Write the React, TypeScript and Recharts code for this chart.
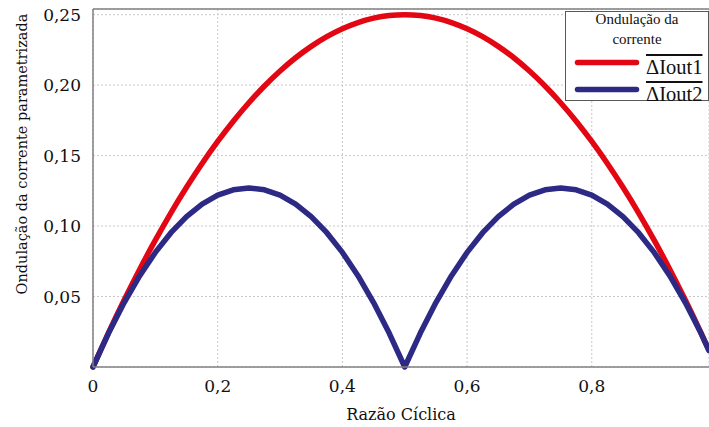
import {
  CartesianGrid,
  Legend,
  Line,
  LineChart,
  ReferenceLine,
  XAxis,
  YAxis,
} from "recharts";

const SERIF = '"Liberation Serif", "Times New Roman", serif';
const SVG_SERIF = "DejaVu Serif";

// razão cíclica (D)
const razao = [
  0, 0.025, 0.05, 0.075, 0.1, 0.125, 0.15, 0.175, 0.2, 0.225, 0.25, 0.275, 0.3,
  0.325, 0.35, 0.375, 0.4, 0.425, 0.45, 0.475, 0.5, 0.525, 0.55, 0.575, 0.6,
  0.625, 0.65, 0.675, 0.7, 0.725, 0.75, 0.775, 0.8, 0.825, 0.85, 0.875, 0.9,
  0.925, 0.95, 0.975, 0.988,
];
// ΔIout1 (red)
const ripple1 = [
  0, 0.0244, 0.0475, 0.0694, 0.09, 0.1094, 0.1275, 0.1444, 0.16, 0.1744,
  0.1875, 0.1994, 0.21, 0.2194, 0.2275, 0.2344, 0.24, 0.2444, 0.2475, 0.2494,
  0.25, 0.2494, 0.2475, 0.2444, 0.24, 0.2344, 0.2275, 0.2194, 0.21, 0.1994,
  0.1875, 0.1744, 0.16, 0.1444, 0.1275, 0.1094, 0.09, 0.0694, 0.0475, 0.0244,
  0.0119,
];
// ΔIout2 (blue)
const ripple2 = [
  0, 0.0241, 0.0457, 0.0648, 0.0813, 0.0953, 0.1067, 0.1156, 0.1219, 0.1257,
  0.127, 0.1257, 0.1219, 0.1156, 0.1067, 0.0953, 0.0813, 0.0648, 0.0457,
  0.0241, 0, 0.0241, 0.0457, 0.0648, 0.0813, 0.0953, 0.1067, 0.1156, 0.1219,
  0.1257, 0.127, 0.1257, 0.1219, 0.1156, 0.1067, 0.0953, 0.0813, 0.0648,
  0.0457, 0.0241, 0.0117,
];

const xTicks = [0, 0.2, 0.4, 0.6, 0.8];
const yTicks = [0.05, 0.1, 0.15, 0.2, 0.25];

const data = razao.map((d, i) => ({ d, i1: ripple1[i], i2: ripple2[i] }));

const fmtX = (v: number) => (v === 0 ? "0" : v.toFixed(1).replace(".", ","));
const fmtY = (v: number) => v.toFixed(2).replace(".", ",");

const YLabel = (props: any) => {
  const { viewBox } = props;
  const x = viewBox.x + 27;
  const y = viewBox.y + viewBox.height / 2 - 34;
  return (
    <text
      x={x}
      y={y}
      transform={`rotate(-90 ${x} ${y})`}
      textAnchor="middle"
      fontFamily={SVG_SERIF}
      fontSize={14.5}
      fill="#111"
    >
      Ondulação da corrente parametrizada
    </text>
  );
};

const renderLegend = (props: any) => {
  const { payload } = props;
  return (
    <div
      style={{
        position: "relative",
        width: 144,
        height: 90,
        border: "1.5px solid #595959",
        boxSizing: "border-box",
        background: "#fff",
        fontFamily: SERIF,
        color: "#111",
      }}
    >
      <div
        style={{
          position: "absolute",
          left: 0,
          right: 0,
          top: -3,
          textAlign: "center",
          fontSize: 15,
          lineHeight: "20px",
        }}
      >
        Ondulação da
        <br />
        corrente
      </div>
      {payload.map((entry: any, i: number) => (
        <div
          key={entry.value}
          style={{ position: "absolute", left: 0, top: 37 + i * 27, width: "100%", height: 27 }}
        >
          <svg width={74} height={27} style={{ position: "absolute", left: 0, top: 0 }}>
            <line
              x1={11.5}
              x2={70.5}
              y1={13.5}
              y2={13.5}
              stroke={entry.color}
              strokeWidth={5.5}
              strokeLinecap="round"
            />
          </svg>
          <span
            style={{
              position: "absolute",
              left: 80,
              top: 8,
              fontSize: 20.5,
              lineHeight: "20px",
              textDecoration: "overline",
              whiteSpace: "nowrap",
            }}
          >
            {entry.value}
          </span>
        </div>
      ))}
    </div>
  );
};

export default function App() {
  return (
    <div
      style={{
        position: "absolute",
        left: 0,
        top: 0,
        width: 709,
        height: 427,
        background: "#fff",
      }}
    >
      <LineChart
        width={709}
        height={427}
        data={data}
        margin={{ top: 9, right: 0, bottom: 0, left: 0 }}
      >
        <CartesianGrid stroke="#c8c8c8" strokeDasharray="2 2" />
        <XAxis
          dataKey="d"
          type="number"
          domain={[0, 0.988]}
          ticks={xTicks}
          tickFormatter={fmtX}
          height={60}
          tickLine={false}
          tickSize={0}
          tickMargin={13}
          axisLine={{ stroke: "#808080", strokeWidth: 1.5 }}
          tick={{ fontSize: 17, fill: "#111", fontFamily: SVG_SERIF }}
          label={{
            value: "Razão Cíclica",
            position: "insideBottom",
            offset: 7,
            fontSize: 16,
            fill: "#111",
            fontFamily: SVG_SERIF,
          }}
        />
        <YAxis
          type="number"
          domain={[0.002, 0.254]}
          ticks={yTicks}
          tickFormatter={fmtY}
          width={93}
          tickLine={false}
          tickSize={0}
          tickMargin={12}
          axisLine={{ stroke: "#808080", strokeWidth: 1.5 }}
          tick={{ fontSize: 17, fill: "#111", fontFamily: SVG_SERIF }}
          label={<YLabel />}
        />
        <ReferenceLine y={0.254} stroke="#808080" strokeWidth={1.5} />
        <Legend
          layout="vertical"
          align="center"
          verticalAlign="middle"
          wrapperStyle={{ position: "absolute", left: 565, top: 11, width: 144, height: 90 }}
          content={renderLegend}
        />
        <Line
          dataKey="i1"
          name="ΔIout1"
          type="monotone"
          stroke="#e30613"
          strokeWidth={5.5}
          strokeLinecap="round"
          strokeLinejoin="round"
          dot={false}
          activeDot={false}
          isAnimationActive={false}
        />
        <Line
          dataKey="i2"
          name="ΔIout2"
          type="linear"
          stroke="#2c2a85"
          strokeWidth={5.5}
          strokeLinecap="round"
          strokeLinejoin="round"
          dot={false}
          activeDot={false}
          isAnimationActive={false}
        />
      </LineChart>
    </div>
  );
}
